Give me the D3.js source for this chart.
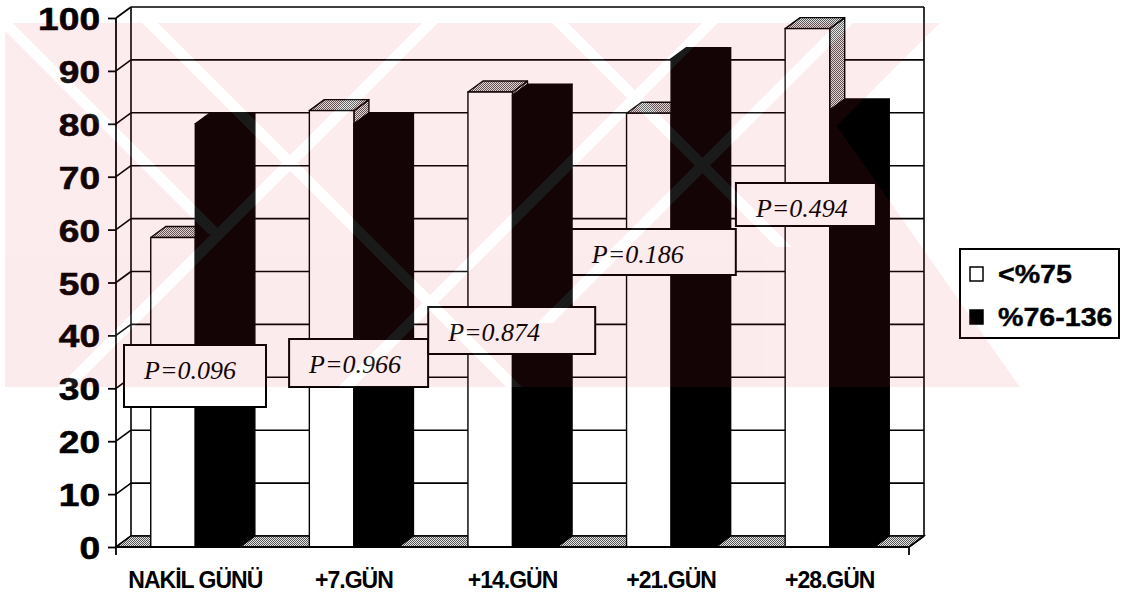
<!DOCTYPE html>
<html>
<head>
<meta charset="utf-8">
<script src="https://cdn.jsdelivr.net/npm/d3@7"></script>
<style>
  html, body { margin: 0; padding: 0; background: #fff; }
  svg { display: block; }
</style>
</head>
<body>
<svg id="chart" width="1128" height="595"></svg>
<script>
// ---- data ----
const categories = ["NAKİL GÜNÜ", "+7.GÜN", "+14.GÜN", "+21.GÜN", "+28.GÜN"];
const seriesNames = ["<%75", "%76-136"];
const lowSeries = [58.5, 82.5, 86, 82, 98];       // <%75
const highSeries = [80, 80, 85.4, 92.3, 82.6];    // %76-136
const yTickValues = [0, 10, 20, 30, 40, 50, 60, 70, 80, 90, 100];
const pValues = ["P=0.096", "P=0.966", "P=0.874", "P=0.186", "P=0.494"];

// ---- layout ----
const W = 1128, H = 595;
const depth = { dx: 15, dy: -11 };
const plot = { left: 116, right: 909, bottom: 547, top: 18 };
const wideX = 1.16;   // horizontal stretch of the heavy sans labels
// annotation boxes: offset from the category band start, top edge, size
const pBoxLayout = [
  { off: 8, top: 345, w: 142, h: 62 },
  { off: 14.5, top: 339, w: 139, h: 48 },
  { off: -5, top: 307, w: 167, h: 47 },
  { off: -20, top: 229, w: 164, h: 46 },
  { off: -14.5, top: 183, w: 140, h: 43 }
];

const svg = d3.select("#chart");
const defs = svg.append("defs");

// stippled grey used for the tops, sides and floor
const pat = defs.append("pattern")
  .attr("id", "stipple").attr("patternUnits", "userSpaceOnUse")
  .attr("width", 2).attr("height", 2);
pat.append("rect").attr("width", 2).attr("height", 2).attr("fill", "#e6e6e6");
pat.append("rect").attr("width", 1).attr("height", 1).attr("fill", "#555");
pat.append("rect").attr("x", 1).attr("y", 1).attr("width", 1).attr("height", 1).attr("fill", "#555");

const y = d3.scaleLinear().domain([0, 100]).range([plot.bottom, plot.top]);
const x0 = d3.scaleBand().domain(categories).range([plot.left, plot.right]);
const x1 = d3.scaleBand().domain(seriesNames).range([0, x0.bandwidth()]).paddingOuter(0.78);

const { dx, dy } = depth;
const g = svg.append("g");
const line = "#000";

// ---- back wall gridlines ----
g.append("g").selectAll("line").data(yTickValues).join("line")
  .attr("x1", plot.left + dx).attr("x2", plot.right + dx)
  .attr("y1", d => y(d) + dy).attr("y2", d => y(d) + dy)
  .attr("stroke", line).attr("stroke-width", 1.6);
// wall edges
g.append("line").attr("x1", plot.left + dx).attr("x2", plot.left + dx)
  .attr("y1", y(100) + dy).attr("y2", y(0) + dy).attr("stroke", line).attr("stroke-width", 1.6);
g.append("line").attr("x1", plot.right + dx).attr("x2", plot.right + dx)
  .attr("y1", y(100) + dy).attr("y2", y(0) + dy).attr("stroke", line).attr("stroke-width", 1.6);

// ---- side wall diagonals ----
g.append("g").selectAll("line").data(yTickValues).join("line")
  .attr("x1", plot.left).attr("x2", plot.left + dx)
  .attr("y1", d => y(d)).attr("y2", d => y(d) + dy)
  .attr("stroke", line).attr("stroke-width", 1.6);

// ---- floor ----
g.append("path")
  .attr("d", `M${plot.left},${y(0)} L${plot.right},${y(0)} L${plot.right + dx},${y(0) + dy} L${plot.left + dx},${y(0) + dy} Z`)
  .attr("fill", "url(#stipple)").attr("stroke", line).attr("stroke-width", 1.4);

// ---- bars ----
const barData = [];
categories.forEach((c, i) => {
  barData.push({ cat: c, s: seriesNames[0], v: lowSeries[i] });
  barData.push({ cat: c, s: seriesNames[1], v: highSeries[i] });
});
const bw = x1.bandwidth();
const bars = g.append("g").selectAll("g").data(barData).join("g");
bars.each(function (d) {
  const sel = d3.select(this);
  const xl = x0(d.cat) + x1(d.s);
  const xr = xl + bw;
  const yt = y(d.v), yb = y(0);
  const dark = d.s === seriesNames[1];
  const faceFill = dark ? "#000" : "#fff";
  const shadeFill = dark ? "#000" : "url(#stipple)";
  // side face
  sel.append("path")
    .attr("d", `M${xr},${yt} L${xr + dx},${yt + dy} L${xr + dx},${yb + dy} L${xr},${yb} Z`)
    .attr("fill", shadeFill).attr("stroke", line).attr("stroke-width", 1.4).attr("stroke-linejoin", "round");
  // top face
  sel.append("path")
    .attr("d", `M${xl},${yt} L${xl + dx},${yt + dy} L${xr + dx},${yt + dy} L${xr},${yt} Z`)
    .attr("fill", shadeFill).attr("stroke", line).attr("stroke-width", 1.4).attr("stroke-linejoin", "round");
  // front face
  sel.append("rect")
    .attr("x", xl).attr("y", yt).attr("width", bw).attr("height", yb - yt)
    .attr("fill", faceFill).attr("stroke", line).attr("stroke-width", 1.4);
});

// ---- front axis ----
g.append("line").attr("x1", plot.left).attr("x2", plot.left)
  .attr("y1", y(100)).attr("y2", y(0) + 8).attr("stroke", line).attr("stroke-width", 1.8);
g.append("line").attr("x1", plot.left).attr("x2", plot.right)
  .attr("y1", y(0)).attr("y2", y(0)).attr("stroke", line).attr("stroke-width", 1.8);
g.append("line").attr("x1", plot.right).attr("x2", plot.right + dx)
  .attr("y1", y(0)).attr("y2", y(0) + dy).attr("stroke", line).attr("stroke-width", 1.6);
g.append("line").attr("x1", plot.right).attr("x2", plot.right)
  .attr("y1", y(0)).attr("y2", y(0) + 8).attr("stroke", line).attr("stroke-width", 1.8);

const yAxis = d3.axisLeft(y).tickValues(yTickValues).tickSize(8).tickPadding(8).tickFormat(d3.format("d"));
const ya = svg.append("g").attr("transform", `translate(${plot.left},0)`).call(yAxis);
ya.select(".domain").remove();
ya.selectAll(".tick line").attr("stroke", line).attr("stroke-width", 1.8);
ya.selectAll(".tick text")
  .attr("font-family", "'Liberation Sans', Arial, sans-serif").attr("font-weight", "bold")
  .attr("font-size", 32).attr("fill", "#000").attr("stroke", "#000").attr("stroke-width", 0.6)
  .attr("x", -16 / wideX).attr("dy", "0.36em")
  .attr("transform", `scale(${wideX},1)`);

const xAxis = d3.axisBottom(x0).tickSize(0).tickPadding(0);
const xa = svg.append("g").attr("transform", `translate(0,${y(0)})`).call(xAxis);
xa.select(".domain").remove();
xa.selectAll(".tick text")
  .attr("font-family", "'Liberation Sans', Arial, sans-serif").attr("font-weight", "bold")
  .attr("font-size", 23).attr("letter-spacing", "-1px").attr("fill", "#000")
  .attr("y", 41).attr("dy", 0);

// ---- P value boxes ----
const pg = svg.append("g").selectAll("g").data(pValues).join("g");
pg.each(function (txt, i) {
  const L = pBoxLayout[i];
  const left = x0(categories[i]) + L.off;
  const sel = d3.select(this);
  sel.append("rect").attr("x", left).attr("y", L.top).attr("width", L.w).attr("height", L.h)
    .attr("fill", "#fff").attr("stroke", line).attr("stroke-width", 2);
  sel.append("text").attr("x", left + 20).attr("y", L.top + 33.5)
    .attr("font-family", "'Liberation Serif', 'Times New Roman', serif")
    .attr("font-style", "italic").attr("font-size", 26).attr("fill", "#000").text(txt);
});

// ---- legend ----
const lg = svg.append("g");
lg.append("rect").attr("x", 960).attr("y", 249).attr("width", 159).attr("height", 89)
  .attr("fill", "#fff").attr("stroke", line).attr("stroke-width", 2);
const legendItems = lg.selectAll("g").data(seriesNames).join("g")
  .attr("transform", (d, i) => `translate(970,${267 + i * 43})`);
legendItems.append("rect").attr("width", 13).attr("height", 14)
  .attr("fill", (d, i) => i === 0 ? "#fff" : "#000").attr("stroke", line).attr("stroke-width", 1.5);
legendItems.append("text").attr("x", 28 / 1.1).attr("y", 16)
  .attr("transform", "scale(1.1,1)")
  .attr("font-family", "'Liberation Sans', Arial, sans-serif").attr("font-weight", "bold")
  .attr("font-size", 26).attr("fill", "#000").attr("stroke", "#000").attr("stroke-width", 0.4)
  .text(d => d);

// ---- background stamp (translucent, drawn over everything) ----
const wm = { x0: 5, x1: 1020, y0: 23, y1: 387 };
// pink field with a notched right edge
const field = [[wm.x0, wm.y0], [940, wm.y0], [837, 126], [wm.x1, wm.y1], [wm.x0, wm.y1]];
// thin clear diagonal gaps inside the field
const gaps = [
  [[5, 23], [216, 234]],
  [[150, 23], [514, 387]],
  [[430, 23], [66, 387]],
  [[560, 23], [784, 247]],
  [[710, 23], [346, 387]],
  [[845, 23], [545, 323]]
];
const gapW = 11;
function band(seg) {
  const [[ax, ay], [bx, by]] = seg;
  const h = gapW / 2 * Math.SQRT2;
  return [[ax - h, ay], [ax + h, ay], [bx + h, by], [bx - h, by]];
}
const clip = defs.append("clipPath").attr("id", "wmclip");
clip.append("path").attr("d", "M" + field.join("L") + "Z");
const mask = defs.append("mask").attr("id", "wmpink").attr("maskUnits", "userSpaceOnUse")
  .attr("x", 0).attr("y", 0).attr("width", W).attr("height", H);
mask.append("path").attr("d", "M" + field.join("L") + "Z").attr("fill", "#fff");
mask.selectAll(".gap").data(gaps).join("path").attr("class", "gap")
  .attr("d", s => "M" + band(s).join("L") + "Z").attr("fill", "#000");
const maskInv = defs.append("mask").attr("id", "wmclear").attr("maskUnits", "userSpaceOnUse")
  .attr("x", 0).attr("y", 0).attr("width", W).attr("height", H);
maskInv.selectAll(".gap").data(gaps).join("path").attr("class", "gap")
  .attr("d", s => "M" + band(s).join("L") + "Z").attr("fill", "#fff");

const stamp = svg.append("g").attr("clip-path", "url(#wmclip)").style("pointer-events", "none");
stamp.append("rect").attr("x", wm.x0).attr("y", wm.y0).attr("width", wm.x1 - wm.x0).attr("height", wm.y1 - wm.y0)
  .attr("fill", "#fff").attr("opacity", 0.1).attr("mask", "url(#wmclear)");
stamp.append("rect").attr("x", wm.x0).attr("y", wm.y0).attr("width", wm.x1 - wm.x0).attr("height", wm.y1 - wm.y0)
  .attr("fill", "rgb(222,44,55)").attr("opacity", 0.09).attr("mask", "url(#wmpink)");
</script>
</body>
</html>
